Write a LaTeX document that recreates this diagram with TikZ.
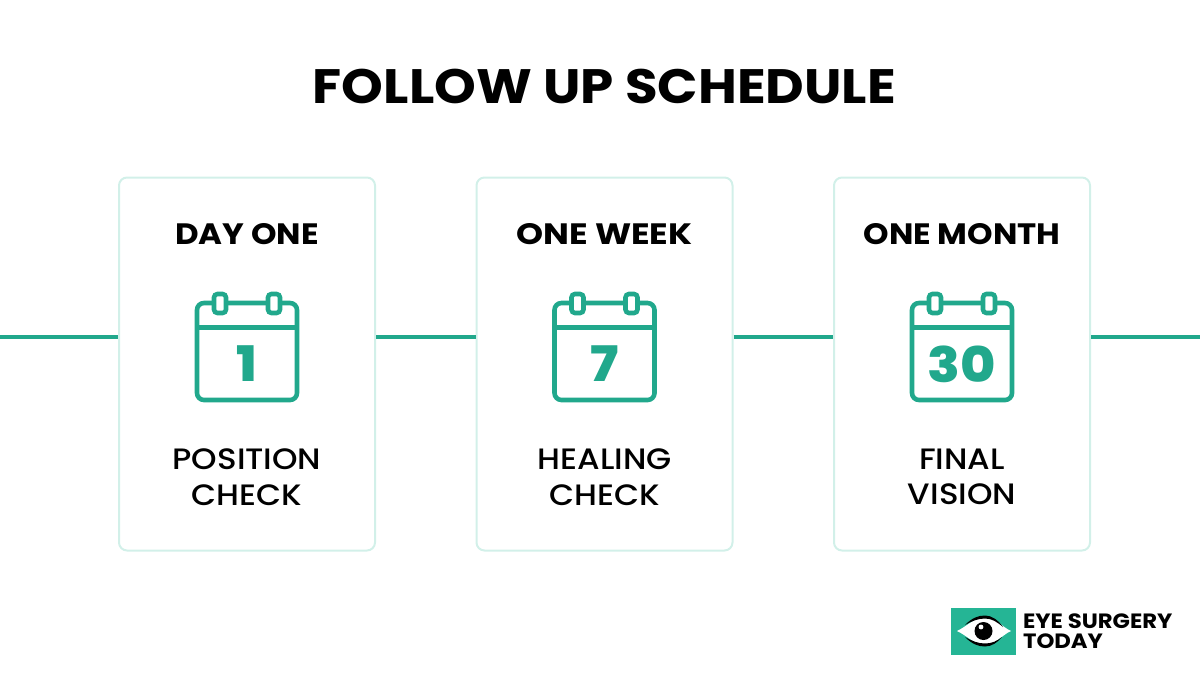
\documentclass[tikz,border=0pt]{standalone}
\usepackage{fontspec}
\setmainfont[FakeStretch=1.1]{Poppins}
\newfontfamily\captionfont[FakeStretch=1.1]{Poppins Medium}
\newfontfamily\numeralfont[FakeStretch=1.1]{Poppins ExtraBold}
\usetikzlibrary{positioning}
\definecolor{tealline}{HTML}{21A88C}
\definecolor{cardline}{HTML}{D2F0E9}
\definecolor{logoteal}{HTML}{25B595}
\tikzset{
	card/.style={
		draw=cardline,
		line width=2pt,
		rounded corners=8pt,
		minimum width=256pt,
		minimum height=373pt,
	},
	link/.style={
		draw=tealline,
		line width=3.2pt,
	},
	heading/.style={
		font=\fontsize{29.5}{34}\selectfont\bfseries,
		text=black,
	},
	caption/.style={
		font=\captionfont\fontsize{29.5}{35.5}\selectfont,
		text=black,
		align=center,
	},
	numeral/.style={
		font=\numeralfont\fontsize{49}{50}\selectfont,
		text=tealline,
	},
	calstroke/.style={
		draw=tealline,
		line width=4.6pt,
	},
	calicon/.pic={
		\draw[calstroke,rounded corners=7pt] (-50,-48.5) rectangle (50,48.5);
		\draw[calstroke] (-50,-24) -- (50,-24);
		\foreach \ringx in {-27,27}{
			\draw[calstroke,fill=white,rounded corners=3.5pt] (\ringx-6,-57.5) rectangle (\ringx+6,-38.5);
		}
	},
}

\begin{document}
\begin{tikzpicture}[x=1pt,y=-1pt]
	\useasboundingbox (0,0) rectangle (1200,675);

	\node[font=\fontsize{48.3}{54}\selectfont\bfseries] (title) at (604.5,86) {FOLLOW UP SCHEDULE};

	\node[card] (daycard) at (247,364) {};
	\node[card] (weekcard) at (604.5,364) {};
	\node[card] (monthcard) at (962,364) {};

	\coordinate (lineleft) at (0,337);
	\coordinate (lineright) at (1200,337);

	\draw[link] (lineleft) -- (lineleft -| daycard.west);
	\draw[link] (lineleft -| daycard.east) -- (lineleft -| weekcard.west);
	\draw[link] (lineleft -| weekcard.east) -- (lineleft -| monthcard.west);
	\draw[link] (lineleft -| monthcard.east) -- (lineright);

	\node[heading] (dayhead) at (247,234) {DAY ONE};
	\node[heading,transform shape,xscale=1.06] (weekhead) at (604.5,234) {ONE WEEK};
	\node[heading] (monthhead) at (962,234) {ONE MONTH};

	\pic at (247,351.5) {calicon};
	\pic at (604.5,351.5) {calicon};
	\pic at (962,351.5) {calicon};

	\node[numeral] (daynum) at (247,364) {1};
	\node[numeral] (weeknum) at (604.5,364) {7};
	\node[numeral] (monthnum) at (962,364) {30};

	\node[caption] (daytext) at (247,477) {POSITION\\CHECK};
	\node[caption] (weektext) at (604.5,477) {HEALING\\CHECK};
	\node[caption] (monthtext) at (962,477) {FINAL\\VISION};

	% logo
	\fill[logoteal] (951,608) rectangle (1016,655);
	\fill[white] (957,631) .. controls (966,627) and (975,617) .. (985,617) .. controls (995,617) and (1002,627) .. (1011,631) .. controls (1002,635) and (995,645) .. (985,645) .. controls (975,645) and (966,635) .. (957,631) -- cycle;
	\fill[black] (965,625) .. controls (972,618) and (978,615.5) .. (985,615.5) .. controls (992,615.5) and (998,620) .. (1003,627) .. controls (997,622) and (992,618.5) .. (985,618.5) .. controls (978,618.5) and (972,621) .. (965,625) -- cycle;
	\fill[black] (965,637) .. controls (972,644) and (978,646.5) .. (985,646.5) .. controls (992,646.5) and (998,642) .. (1002,637) .. controls (997,641) and (992,643.5) .. (985,643.5) .. controls (978,643.5) and (972,641) .. (965,637) -- cycle;
	\fill[black] (983.5,631) circle (9);
	\fill[white] (981,627) circle (2.4);
	\node[anchor=west,font=\fontsize{20.7}{20}\selectfont\bfseries,align=left] (logotext) at (1019.5,631) {EYE SURGERY\\TODAY};
\end{tikzpicture}
\end{document}
